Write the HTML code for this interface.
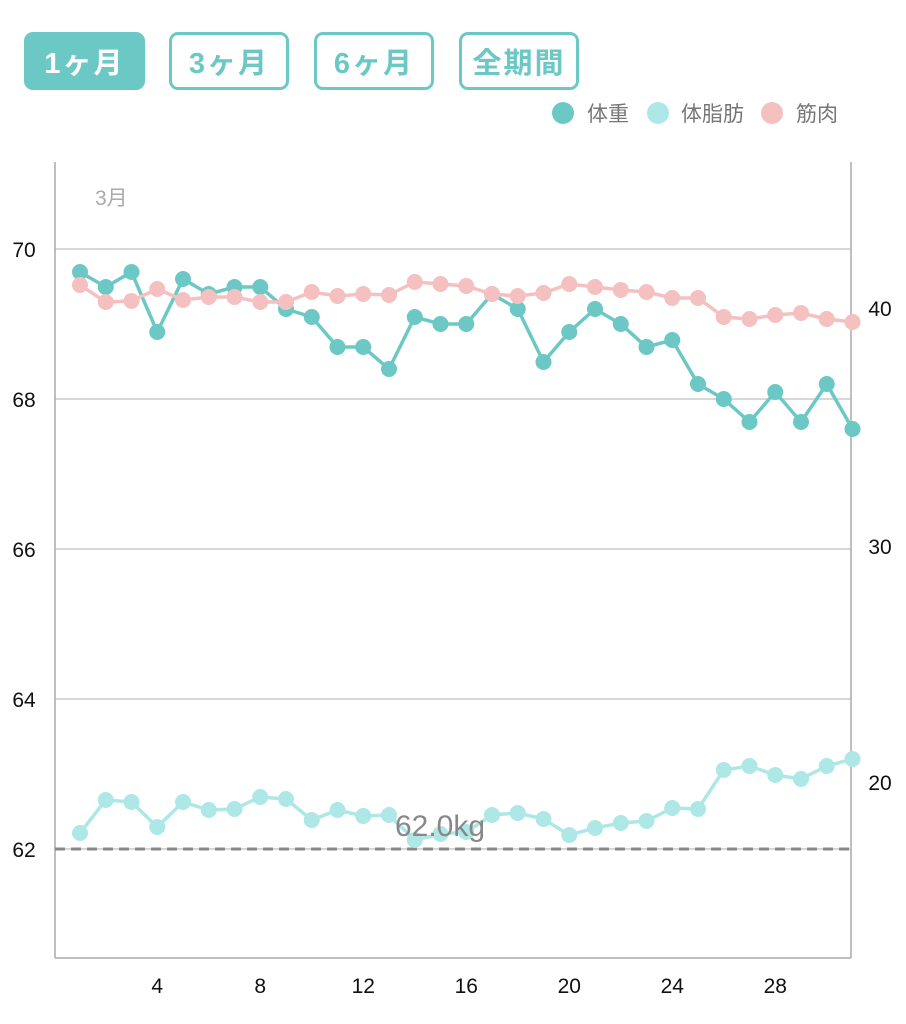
<!DOCTYPE html>
<html><head><meta charset="utf-8"><style>
body{margin:0;background:#fff;width:906px;height:1024px;overflow:hidden;font-family:"Liberation Sans","Noto Sans CJK JP",sans-serif;}
.b{position:absolute;top:32px;height:58px;box-sizing:border-box;border:3px solid #6cc8c4;border-radius:9px;color:#6cc8c4;font-size:29px;font-weight:bold;display:flex;align-items:center;justify-content:center;letter-spacing:2px;}
</style></head><body>
<div class="b" style="left:24px;width:121px;background:#6cc8c4;color:#fff">1ヶ月</div>
<div class="b" style="left:169px;width:120px">3ヶ月</div>
<div class="b" style="left:314px;width:120px">6ヶ月</div>
<div class="b" style="left:459px;width:120px">全期間</div>
<svg id="s" width="906" height="1024" style="position:absolute;left:0;top:0" font-family="Liberation Sans, Noto Sans CJK JP, sans-serif"></svg>
<script>
var s=document.getElementById('s'),h='';
h+='<circle cx="563" cy="113" r="11" fill="#6cc8c4"/><text x="587" y="121" font-size="21" fill="#777">体重</text>';
h+='<circle cx="658" cy="113" r="11" fill="#ade8e6"/><text x="681" y="121" font-size="21" fill="#777">体脂肪</text>';
h+='<circle cx="772" cy="113" r="11" fill="#f4c0c0"/><text x="796" y="121" font-size="21" fill="#777">筋肉</text>';
[[249,70],[399,68],[549,66],[699,64],[849,62]].forEach(function(g){
 h+='<line x1="55" x2="851" y1="'+g[0]+'" y2="'+g[0]+'" stroke="#ccc" stroke-width="1.5"/>';
 h+='<text x="24" y="'+(g[0]+8)+'" font-size="21" text-anchor="middle" fill="#111">'+g[1]+'</text>';});
[[308,40],[546,30],[782,20]].forEach(function(g){h+='<text x="880" y="'+(g[0]+8)+'" font-size="21" text-anchor="middle" fill="#111">'+g[1]+'</text>';});
h+='<line x1="55" x2="55" y1="162" y2="958" stroke="#aaa" stroke-width="1.5"/><line x1="851" x2="851" y1="162" y2="958" stroke="#aaa" stroke-width="1.5"/><line x1="55" x2="851" y1="958" y2="958" stroke="#aaa" stroke-width="1.5"/>';
[4,8,12,16,20,24,28].forEach(function(d){var x=80+(d-1)*25.75;h+='<text x="'+x+'" y="993" font-size="21" text-anchor="middle" fill="#111">'+d+'</text>';});
h+='<text x="95" y="205" font-size="21" fill="#aaa">3月</text>';
h+='<line x1="55" x2="851" y1="849" y2="849" stroke="#888" stroke-width="3" stroke-dasharray="10,6"/>';
function ser(a,c){var p=a.map(function(y,i){return (80+i*25.75)+','+y;}).join(' ');
 h+='<polyline points="'+p+'" fill="none" stroke="'+c+'" stroke-width="3.5"/>';
 a.forEach(function(y,i){h+='<circle cx="'+(80+i*25.75)+'" cy="'+y+'" r="8" fill="'+c+'"/>';});}
ser([272,287,272,332,279,294,287,287,309,317,347,347,369,317,324,324,294,309,362,332,309,324,347,340,384,399,422,392,422,384,429],'#6cc8c4');
ser([285,302,301,289,300,297,297,302,302,292,296,294,295,282,284,286,294,296,293,284,287,290,292,298,298,317,319,315,313,319,322],'#f4c0c0');
ser([833,800,802,827,802,810,809,797,799,820,810,816,815,840,834,832,815,813,819,835,828,823,821,808,809,770,766,775,779,766,759],'#ade8e6');
h+='<text x="440" y="836" font-size="30" text-anchor="middle" fill="#888">62.0kg</text>';
s.innerHTML=h;
</script>
</body></html>
